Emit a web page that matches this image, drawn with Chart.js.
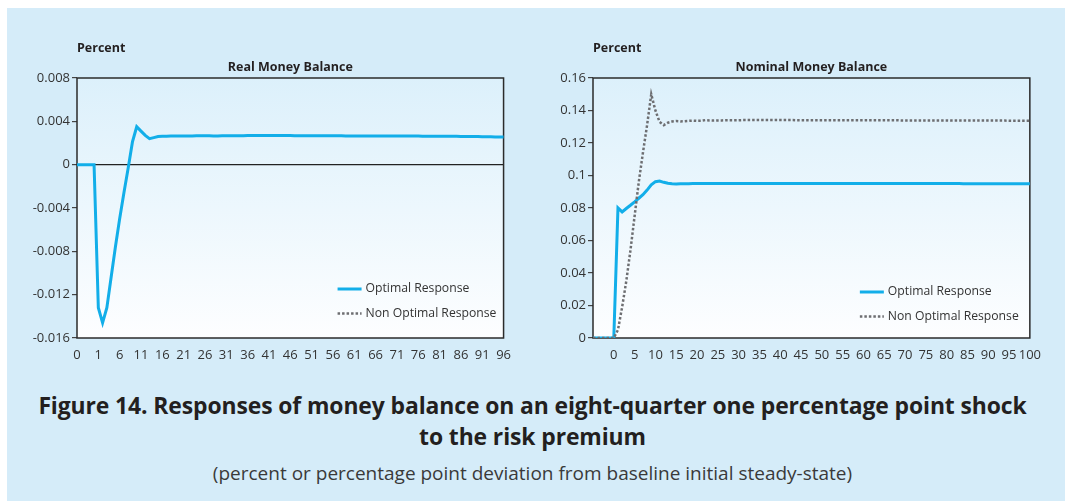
<!DOCTYPE html>
<html>
<head>
<meta charset="utf-8">
<script src="https://cdn.jsdelivr.net/npm/chart.js@4.4.1/dist/chart.umd.min.js"></script>
<style>
    html, body { margin: 0; padding: 0; background: #fff; }
    body { width: 1065px; height: 501px; position: relative; overflow: hidden; font-family: 'Open Sans', sans-serif; }
    #panel { position: absolute; left: 7px; top: 8px; width: 1058px; height: 493px; background: #d5ecf9; }
    .box { position: absolute; top: 30px; height: 340px; }
    #leftBox { left: 10px; width: 510px; }
    #rightBox { left: 530px; width: 520px; }
    #caption { position: absolute; left: 0; width: 1065px; top: 390px; text-align: center; font-weight: bold; font-size: 22.9px; line-height: 31px; color: #231f20; letter-spacing: -0.1px; }
    #sub { position: absolute; left: 0; width: 1065px; top: 460px; text-align: center; font-size: 19px; line-height: 26px; color: #3a3a3a; }
</style>
</head>
<body>
<div id="panel"></div>
<div class="box" id="leftBox"><canvas id="realChart"></canvas></div>
<div class="box" id="rightBox"><canvas id="nominalChart"></canvas></div>
<div id="caption">Figure 14. Responses of money balance on an eight-quarter one percentage point shock<br>to the risk premium</div>
<div id="sub">(percent or percentage point deviation from baseline initial steady-state)</div>

<script>
// Periodos (trimestres) de cada gráfico
const realPeriods = [-4,-3,-2,-1,0,1,2,3,4,5,6,7,8,9,10,11,12,13,14,15,16,17,18,19,20,21,22,23,24,25,26,27,28,29,30,
    31,32,33,34,35,36,37,38,39,40,41,42,43,44,45,46,47,48,49,50,51,52,53,54,55,56,57,58,59,60,61,62,63,64,65,
    66,67,68,69,70,71,72,73,74,75,76,77,78,79,80,81,82,83,84,85,86,87,88,89,90,91,92,93,94,95,96];
const nominalPeriods = [-5,-4,-3,-2,-1,0,1,2,3,4,5,6,7,8,9,10,11,12,13,14,15,16,17,18,19,20,21,22,23,24,25,26,27,28,29,30,
    31,32,33,34,35,36,37,38,39,40,41,42,43,44,45,46,47,48,49,50,51,52,53,54,55,56,57,58,59,60,61,62,63,64,65,
    66,67,68,69,70,71,72,73,74,75,76,77,78,79,80,81,82,83,84,85,86,87,88,89,90,91,92,93,94,95,96,97,98,99,100];

// Etiquetas del eje x (una cada cinco periodos)
const realTickLabels = ['0','1','6','11','16','21','26','31','36','41','46','51','56','61','66','71','76','81','86','91','96'];
const nominalTickLabels = ['','0','5','10','15','20','25','30','35','40','45','50','55','60','65','70','75','80','85','90','95','100'];

// Real Money Balance - respuesta óptima
const realOptimal = [0,0,0,0,0,
    -0.0132,-0.0146,-0.0132,-0.0104,-0.0076,-0.0050,-0.0026,-0.0003,0.0021,0.0035,
    0.0031,0.0027,0.0024,0.0025,0.0026,
    0.00262,0.00263,0.00264,0.00264,0.00265,0.00265,0.00265,0.00265,0.00266,0.00266,
    0.00267,0.00266,0.00265,0.00265,0.00266,0.00266,0.00267,0.00267,0.00268,0.00268,
    0.00269,0.00269,0.0027,0.0027,0.0027,0.0027,0.0027,0.0027,0.0027,0.0027,
    0.0027,0.00268,0.00267,0.00266,0.00266,0.00266,0.00266,0.00266,0.00266,0.00266,
    0.00266,0.00266,0.00266,0.00265,0.00265,0.00265,0.00265,0.00265,0.00265,0.00265,
    0.00265,0.00265,0.00265,0.00264,0.00264,0.00264,0.00264,0.00264,0.00264,0.00264,
    0.00264,0.00263,0.00263,0.00263,0.00263,0.00263,0.00262,0.00262,0.00262,0.00262,
    0.00261,0.00261,0.0026,0.0026,0.00259,0.00258,0.00258,0.00257,0.00256,0.00256,0.00255];

// Nominal Money Balance
const nominalOptimal = [0,0,0,0,0,0,
    0.0801,0.0776,0.0797,0.0817,0.0838,0.0860,0.0882,0.0910,0.0942,0.0962,
    0.0966,0.0958,0.0952,0.0949,0.0948,0.0949,0.0950,0.0950,0.0951,0.0951,
    0.0951,0.0951,0.0951,0.0951,0.0951,0.0951,0.0951,0.0951,0.0951,0.0951,
    0.0951,0.0951,0.0951,0.0951,0.0951,0.0951,0.0951,0.0951,0.0951,0.0951,
    0.0951,0.0951,0.0951,0.0951,0.0951,0.0951,0.0951,0.0951,0.0951,0.0951,
    0.0951,0.0951,0.0951,0.0951,0.0951,0.0951,0.0951,0.0951,0.0951,0.0951,
    0.0951,0.0951,0.0951,0.0951,0.0951,0.0951,0.0951,0.0951,0.0951,0.0951,
    0.0951,0.0951,0.0951,0.0951,0.0951,0.0951,0.0951,0.0951,0.0951,0.0951,
    0.0951,0.0951,0.0951,0.0950,0.0950,0.0950,0.0950,0.0950,0.0950,0.0950,
    0.0950,0.0950,0.0950,0.0950,0.0950,0.0950,0.0950,0.0950,0.0950,0.0950];
const nominalNonOptimal = [0,0,0,0,0,0,
    0.005,0.019,0.035,0.054,0.075,0.096,0.114,0.131,0.150,0.140,
    0.133,0.131,0.1325,0.1332,0.1335,0.1333,0.1334,0.1336,0.1338,0.1336,
    0.1337,0.1341,0.1339,0.1338,0.1339,0.1339,0.1340,0.1340,0.1340,0.1340,
    0.1341,0.1341,0.1341,0.1341,0.1341,0.1341,0.1341,0.1341,0.1341,0.1341,
    0.1341,0.1341,0.1341,0.1340,0.1340,0.1340,0.1340,0.1340,0.1340,0.1340,
    0.1340,0.1340,0.1340,0.1340,0.1340,0.1340,0.1340,0.1340,0.1340,0.1340,
    0.1340,0.1340,0.1340,0.1340,0.1340,0.1340,0.1340,0.1340,0.1339,0.1339,
    0.1339,0.1339,0.1339,0.1339,0.1339,0.1339,0.1339,0.1339,0.1339,0.1339,
    0.1338,0.1338,0.1338,0.1338,0.1338,0.1338,0.1338,0.1338,0.1338,0.1338,
    0.1338,0.1338,0.1338,0.1338,0.1337,0.1337,0.1337,0.1337,0.1337,0.1337];

const legendItems = [
    { label: 'Optimal Response', color: '#12aee9', width: 3, dash: [] },
    { label: 'Non Optimal Response', color: '#6d6e71', width: 2.5, dash: [2.5, 2] }
];

const textColor = '#333';
const font = "'Open Sans', sans-serif";

// Fondo degradado, marco, títulos y leyenda
const framePlugin = {
    id: 'frame',
    beforeDraw(chart) {
        const { ctx, chartArea: a } = chart;
        const g = ctx.createLinearGradient(0, a.top, 0, a.bottom);
        g.addColorStop(0, '#dcf0fb');
        g.addColorStop(1, '#fdfeff');
        ctx.save();
        ctx.fillStyle = g;
        ctx.fillRect(a.left, a.top, a.width, a.height);
        ctx.restore();
    },
    beforeDatasetsDraw(chart) {
        const { ctx, chartArea: a } = chart;
        ctx.save();
        ctx.strokeStyle = '#2b2b2b';
        ctx.lineWidth = 1.5;
        ctx.strokeRect(a.left, a.top, a.width, a.height);
        ctx.restore();
    },
    afterDraw(chart, args, opts) {
        const { ctx, chartArea: a } = chart;
        ctx.save();
        ctx.fillStyle = '#231f20';
        ctx.textBaseline = 'middle';
        ctx.font = 'bold 12.5px ' + font;
        ctx.textAlign = 'left';
        ctx.fillText('Percent', a.left, a.top - 30);
        ctx.textAlign = 'center';
        ctx.fillText(opts.title, (a.left + a.right) / 2, a.top - 11);

        // leyenda
        ctx.font = '12.2px ' + font;
        ctx.textAlign = 'left';
        legendItems.forEach((it, i) => {
            const y = a.bottom - opts.legendBottom + i * 24.5;
            const x0 = a.right - opts.legendRight;
            ctx.beginPath();
            ctx.strokeStyle = it.color;
            ctx.lineWidth = it.width;
            ctx.setLineDash(it.dash);
            ctx.moveTo(x0, y);
            ctx.lineTo(x0 + 24, y);
            ctx.stroke();
            ctx.setLineDash([]);
            ctx.fillStyle = textColor;
            ctx.fillText(it.label, x0 + 28, y);
        });
        ctx.restore();
    }
};

function makeOptions(cfg) {
    return {
        responsive: true,
        maintainAspectRatio: false,
        animation: false,
        layout: { padding: { top: 48, right: cfg.padRight, left: 0, bottom: 0 } },
        elements: { point: { radius: 0 }, line: { tension: 0 } },
        plugins: {
            legend: { display: false },
            tooltip: { enabled: false },
            frame: { title: cfg.title, legendRight: cfg.legendRight, legendBottom: cfg.legendBottom }
        },
        scales: {
            x: {
                offset: false,
                grid: { display: false, drawTicks: false, tickLength: 0 },
                border: { display: false },
                afterFit(scale) { scale.height = 32; },
                ticks: {
                    autoSkip: false,
                    maxRotation: 0,
                    padding: 9,
                    color: textColor,
                    font: { family: font, size: 13 },
                    callback: (v, i) => (i % 5 === 0 ? cfg.tickLabels[i / 5] : null)
                }
            },
            y: {
                min: cfg.min,
                max: cfg.max,
                afterFit(scale) { scale.width = cfg.yWidth; },
                border: { display: false },
                grid: {
                    drawOnChartArea: cfg.zeroLine,
                    color: ctx => (ctx.tick && ctx.tick.value === 0 ? '#222' : 'rgba(0,0,0,0)'),
                    lineWidth: 1.2,
                    tickColor: '#444',
                    tickLength: 5
                },
                ticks: {
                    stepSize: cfg.step,
                    padding: 2,
                    color: textColor,
                    font: { family: font, size: 13 },
                    callback: v => String(+v.toFixed(cfg.decimals))
                }
            }
        }
    };
}

function createCharts() {
    new Chart(document.getElementById('realChart'), {
        type: 'line',
        data: {
            labels: realPeriods,
            datasets: [
                {
                    label: 'Optimal Response',
                    data: realOptimal,
                    borderColor: '#12aee9',
                    borderWidth: 3,
                    fill: false
                }
            ]
        },
        options: makeOptions({
            title: 'Real Money Balance', tickLabels: realTickLabels,
            min: -0.016, max: 0.008, step: 0.004, decimals: 3,
            yWidth: 67, padRight: 13, zeroLine: true,
            legendRight: 166, legendBottom: 49
        }),
        plugins: [framePlugin]
    });

    new Chart(document.getElementById('nominalChart'), {
        type: 'line',
        data: {
            labels: nominalPeriods,
            datasets: [
                {
                    label: 'Non Optimal Response',
                    data: nominalNonOptimal,
                    borderColor: '#6d6e71',
                    borderWidth: 2.5,
                    borderDash: [2.5, 2],
                    fill: false
                },
                {
                    label: 'Optimal Response',
                    data: nominalOptimal,
                    borderColor: '#12aee9',
                    borderWidth: 3,
                    fill: false
                }
            ]
        },
        options: makeOptions({
            title: 'Nominal Money Balance', tickLabels: nominalTickLabels,
            min: 0, max: 0.16, step: 0.02, decimals: 2,
            yWidth: 63, padRight: 15, zeroLine: false,
            legendRight: 170, legendBottom: 46
        }),
        plugins: [framePlugin]
    });
}

document.addEventListener('DOMContentLoaded', createCharts);
</script>
</body>
</html>
